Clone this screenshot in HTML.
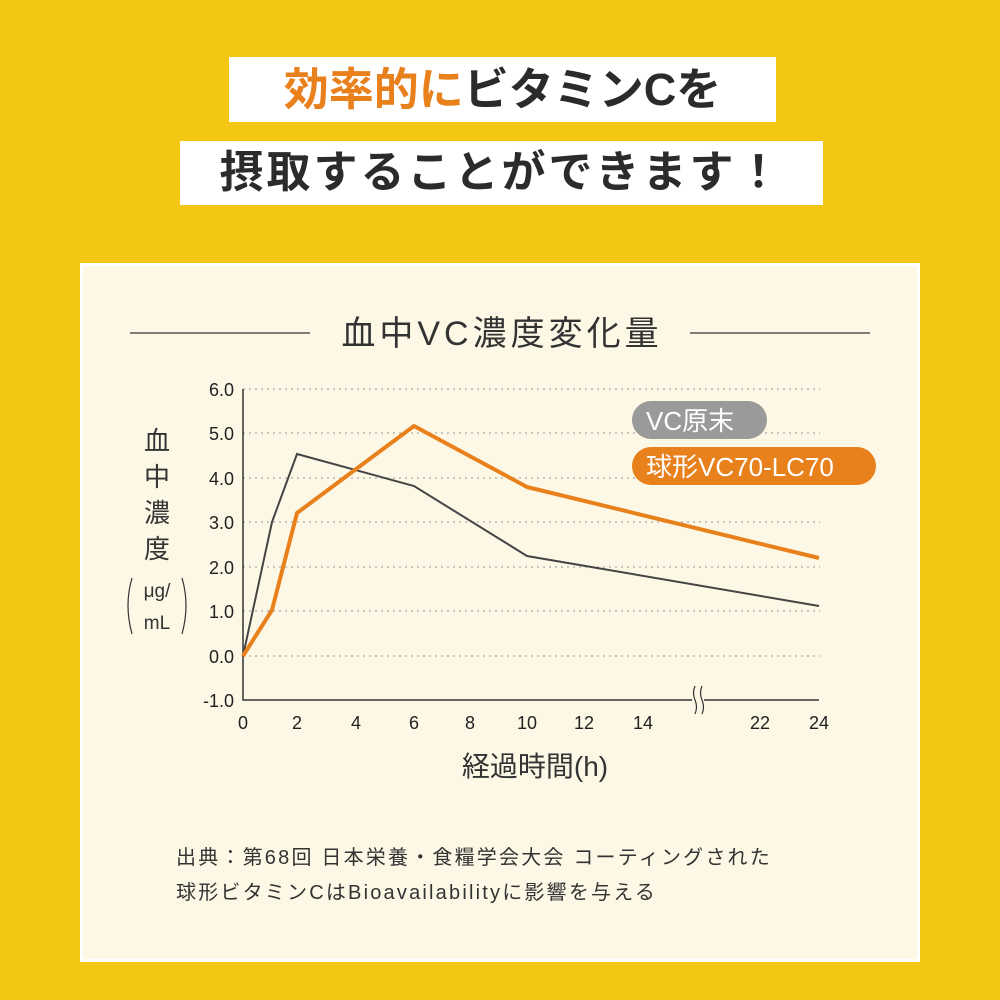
<!DOCTYPE html>
<html><head><meta charset="utf-8"><style>
body{margin:0;width:1000px;height:1000px;background:#f3c613;position:relative;overflow:hidden;font-family:"Liberation Sans","Noto Sans CJK JP",sans-serif;}
.box{position:absolute;background:#fff;text-align:center;color:#2b2b2b;font-weight:bold;}
.panel{position:absolute;left:80px;top:263px;width:834px;height:693px;background:#fdf8e6;border:3px solid #fff;}
</style></head><body>
<div class="box" style="left:229px;top:57px;width:547px;height:65px;font-size:45px;line-height:65px;"><span style="color:#e8801c">効率的に</span>ビタミンCを</div>
<div class="box" style="left:180px;top:141px;width:643px;height:64px;font-size:44px;line-height:64px;letter-spacing:3px;">摂取することができます！</div>
<div class="panel"></div>
<svg style="position:absolute;left:0;top:0" width="1000" height="1000" font-family="Liberation Sans, Noto Sans CJK JP, sans-serif">
<line x1="130" y1="333" x2="310" y2="333" stroke="#333" stroke-width="1.2"/>
<line x1="690" y1="333" x2="870" y2="333" stroke="#333" stroke-width="1.2"/>
<text x="502" y="345" font-size="34" text-anchor="middle" fill="#333" letter-spacing="4">血中VC濃度変化量</text>
<g stroke="#aaa" stroke-width="1.3" stroke-dasharray="2,4">
<line x1="243" y1="389" x2="820" y2="389"/><line x1="243" y1="433" x2="820" y2="433"/>
<line x1="243" y1="478" x2="820" y2="478"/><line x1="243" y1="522" x2="820" y2="522"/>
<line x1="243" y1="567" x2="820" y2="567"/><line x1="243" y1="611" x2="820" y2="611"/>
<line x1="243" y1="656" x2="820" y2="656"/></g>
<polyline points="243,389 243,700 819,700" fill="none" stroke="#333" stroke-width="1.5"/>
<rect x="692" y="684" width="12" height="34" fill="#fdf8e6"/>
<path d="M695,686 q-3,7 0,14 q3,7 0,14 M702,686 q-3,7 0,14 q3,7 0,14" fill="none" stroke="#333" stroke-width="1.2"/>
<g font-size="18" fill="#222" text-anchor="end">
<text x="234" y="396">6.0</text><text x="234" y="440">5.0</text><text x="234" y="485">4.0</text>
<text x="234" y="529">3.0</text><text x="234" y="574">2.0</text><text x="234" y="618">1.0</text>
<text x="234" y="663">0.0</text><text x="234" y="707">-1.0</text></g>
<g font-size="18" fill="#222" text-anchor="middle">
<text x="243" y="729">0</text><text x="297" y="729">2</text><text x="356" y="729">4</text><text x="414" y="729">6</text>
<text x="470" y="729">8</text><text x="527" y="729">10</text><text x="584" y="729">12</text><text x="643" y="729">14</text>
<text x="760" y="729">22</text><text x="819" y="729">24</text></g>
<polyline points="243,656 272,522 297,454 414,486 527,556 819,606" fill="none" stroke="#444" stroke-width="2"/>
<polyline points="243,656 272,610 297,513 414,426 527,487 819,558" fill="none" stroke="#e8801c" stroke-width="4" stroke-linejoin="round"/>
<rect x="632" y="401" width="135" height="38" rx="19" fill="#9a9a9a"/>
<text x="646" y="430" font-size="26" fill="#fff">VC原末</text>
<rect x="632" y="447" width="244" height="38" rx="19" fill="#e8801c"/>
<text x="646" y="476" font-size="26" fill="#fff">球形VC70-LC70</text>
<g font-size="26" fill="#333" text-anchor="middle">
<text x="157" y="450">血</text><text x="157" y="486">中</text><text x="157" y="522">濃</text><text x="157" y="558">度</text></g>
<text x="157" y="597" font-size="19" fill="#333" text-anchor="middle">μg/</text>
<text x="157" y="629" font-size="19" fill="#333" text-anchor="middle">mL</text>
<path d="M132,578 q-8,27 0,56 M182,578 q8,27 0,56" fill="none" stroke="#333" stroke-width="1.2"/>
<text x="535" y="776" font-size="28" fill="#333" text-anchor="middle">経過時間(h)</text>
<text x="176" y="864" font-size="20" fill="#333" letter-spacing="2.2">出典：第68回 日本栄養・食糧学会大会 コーティングされた</text>
<text x="176" y="899" font-size="20" fill="#333" letter-spacing="2.2">球形ビタミンCはBioavailabilityに影響を与える</text>
</svg>
</body></html>
